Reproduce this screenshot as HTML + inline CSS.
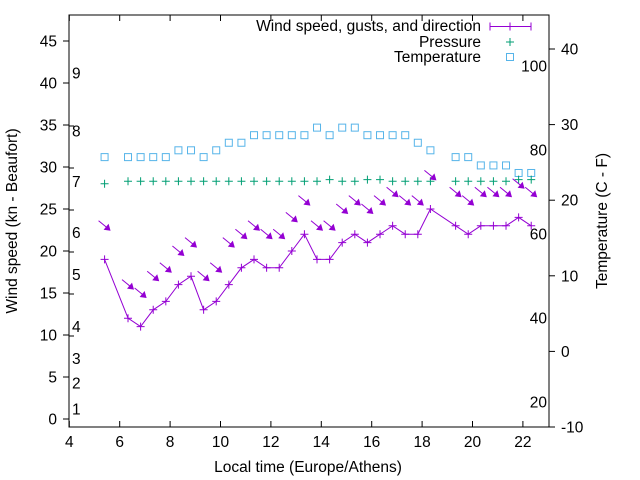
<!DOCTYPE html>
<html><head><meta charset="utf-8"><style>
body{margin:0;background:#fff;}
svg{display:block;font-family:"Liberation Sans",sans-serif;}
</style></head><body>
<svg id="chart" width="640" height="480" viewBox="0 0 640 480" xmlns="http://www.w3.org/2000/svg">
<g id="axes"></g><g id="marks"></g>
<g font-size="15.5" text-anchor="end">
<text x="481" y="31">Wind speed, gusts, and direction</text>
<text x="481" y="47">Pressure</text>
<text x="481" y="62">Temperature</text>
<line x1="490" y1="26.5" x2="531" y2="26.5" stroke="#9400d3"/>
<line x1="490" y1="22.5" x2="490" y2="30.5" stroke="#9400d3"/>
<line x1="531" y1="22.5" x2="531" y2="30.5" stroke="#9400d3"/>
<path d="M506 26.5h8M510 22.5v8" stroke="#9400d3"/>
<path d="M506 42h8M510 38v8" stroke="#009e73"/>
<rect x="506.5" y="53.5" width="7" height="7" fill="none" stroke="#56b4e9"/>
</g>
</svg>
<script>
const times=[5.4,6.33,6.83,7.33,7.83,8.33,8.83,9.33,9.83,10.33,10.83,11.33,11.83,12.33,12.83,13.33,13.83,14.33,14.83,15.33,15.83,16.33,16.83,17.33,17.83,18.33,19.33,19.83,20.33,20.83,21.33,21.83,22.33];
const wind=[19,12,11,13,14,16,17,13,14,16,18,19,18,18,20,22,19,19,21,22,21,22,23,22,22,25,23,22,23,23,23,24,23];
const gusts=[23,16,15,17,18,20,21,17,18,21,22,23,22,22,24,26,23,23,25,26,25,26,27,26,26,29,27,26,27,27,27,28,27];
const pressure=[28.0,28.3,28.3,28.3,28.3,28.3,28.3,28.3,28.3,28.3,28.3,28.3,28.3,28.3,28.3,28.3,28.3,28.5,28.3,28.3,28.5,28.5,28.3,28.3,28.3,28.3,28.3,28.3,28.3,28.3,28.3,28.5,28.5];
const temps=[25.7,25.7,25.7,25.7,25.7,26.6,26.6,25.7,26.6,27.6,27.6,28.6,28.6,28.6,28.6,28.6,29.6,28.6,29.6,29.6,28.6,28.6,28.6,28.6,27.6,26.6,25.7,25.7,24.6,24.6,24.6,23.6,23.6];
const xTicks=[4,6,8,10,12,14,16,18,20,22];
const yTicks=[0,5,10,15,20,25,30,35,40,45];
const y2Ticks=[-10,0,10,20,30,40];
const beaufort=["1","2","3","4","5","6","7","8","9"];
const beaufortPos=[1.2,4.3,7.2,11,17.2,22.2,28.3,34.3,41.2];
const fahr=[20,40,60,80,100];

const L=69,R=549,T=15,B=427;
const X=v=>69.3+(v-4)*25.2;
const Y=v=>419-v*8.4;
const Y2=v=>427-(v+10)*7.56;
const NS="http://www.w3.org/2000/svg";
const FS=15.5;
function mk(tag,attrs,parent,text){const e=document.createElementNS(NS,tag);for(const k in attrs)e.setAttribute(k,attrs[k]);if(text!==undefined)e.textContent=text;parent.appendChild(e);return e;}
const ax=document.getElementById('axes'),mg=document.getElementById('marks');
let f=mk('rect',{x:L,y:T,width:R-L,height:B-T,fill:'none',stroke:'#000'},ax);


xTicks.forEach(v=>{const x=X(v);mk('line',{x1:x,y1:B,x2:x,y2:B-6,stroke:'#000'},ax);mk('line',{x1:x,y1:T,x2:x,y2:T+6,stroke:'#000'},ax);
 const t=mk('text',{x:x,y:B+20,'font-size':FS,'text-anchor':'middle'},ax,String(v));
 
 });
yTicks.forEach(v=>{const y=Y(v);mk('line',{x1:L-6,y1:y,x2:L,y2:y,stroke:'#000'},ax);
 const t=mk('text',{x:L-12,y:y+5.5,'font-size':FS,'text-anchor':'end'},ax,String(v));
 
 });
[10,15,20,25,30,35].forEach(v=>mk('line',{x1:L,y1:Y(v)+1,x2:L+5,y2:Y(v)+1,stroke:'#000'},ax));
y2Ticks.forEach(v=>{const y=Y2(v);mk('line',{x1:R,y1:y,x2:R+6,y2:y,stroke:'#000'},ax);
 const t=mk('text',{x:R+12,y:y+5.5,'font-size':FS},ax,String(v));
 
 });
beaufort.forEach((s,i)=>{const t=mk('text',{x:72,y:Y(beaufortPos[i])+5.5,'font-size':FS},ax,s);
 
 });
fahr.forEach(v=>{const c=(v-32)*5/9;const t=mk('text',{x:R-2,y:Y2(c)+5.5,'font-size':FS,'text-anchor':'end'},ax,String(v));
 
 });
let t=mk('text',{x:308,y:472,'font-size':FS,'text-anchor':'middle'},ax,'Local time (Europe/Athens)');


t=mk('text',{x:0,y:0,'font-size':FS,'text-anchor':'middle',transform:'translate(17,221) rotate(-90)'},ax,'Wind speed (kn - Beaufort)');


t=mk('text',{x:0,y:0,'font-size':FS,'text-anchor':'middle',transform:'translate(607,221) rotate(-90)'},ax,'Temperature (C - F)');



times.forEach((tm,i)=>{const r=mk('rect',{x:X(tm)-3.5,y:Y2(temps[i])-3.5,width:7,height:7,fill:'none',stroke:'#56b4e9'},mg);
 
 });
times.forEach((tm,i)=>{const x=X(tm),y=Y(pressure[i]);const p=mk('path',{d:`M${x-4} ${y}h8M${x} ${y-4}v8`,stroke:'#009e73'},mg);
 
 });
const pl=mk('polyline',{points:times.map((tm,i)=>X(tm)+','+Y(wind[i])).join(' '),fill:'none',stroke:'#9400d3'},mg);


times.forEach((tm,i)=>{const x=X(tm),y=Y(wind[i]);const p=mk('path',{d:`M${x-4} ${y}h8M${x} ${y-4}v8`,stroke:'#9400d3'},mg);
 
 });
times.forEach((tm,i)=>{const x=X(tm),y=Y(gusts[i]);
 const g=mk('g',{},mg);
 
 
 mk('line',{x1:x-6,y1:y-5,x2:x+5,y2:y+4,stroke:'#9400d3'},g);
 mk('polygon',{points:`${x+6},${y+5} ${x-1},${y+4} ${x+4},${y-2}`,fill:'#9400d3'},g);});
</script>
</body></html>
